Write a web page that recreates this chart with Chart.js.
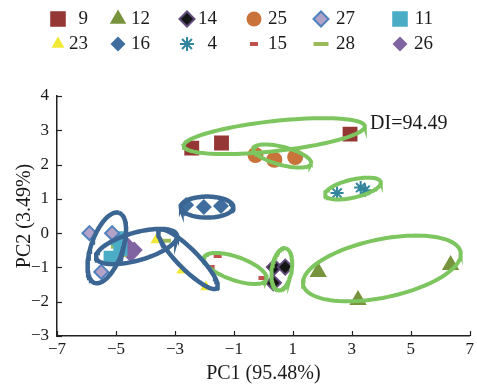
<!DOCTYPE html>
<html>
<head>
<meta charset="utf-8">
<script src="https://cdn.jsdelivr.net/npm/chart.js@4.4.0/dist/chart.umd.min.js"></script>
<style>
  html, body { margin: 0; padding: 0; background: #fff; }
  #wrap { width: 477px; height: 386px; }
</style>
</head>
<body>
<div id="wrap"><canvas id="myChart" width="477" height="386"></canvas></div>
<script>
// groups, in legend order (row by row)
const groupNames = ['9', '12', '14', '25', '27', '11', '23', '16', '4', '15', '28', '26'];

// PC1 / PC2 scores per group
const pc1_9 = [-2.43, -1.42, 2.94];
const pc2_9 = [2.48, 2.63, 2.89];
const pc1_12 = [1.86, 3.21, 6.35];
const pc2_12 = [-1.13, -1.95, -0.93];
const pc1_14 = [0.37, 0.74, 0.34];
const pc2_14 = [-0.99, -0.99, -1.45];
const pc1_25 = [-0.27, 0.37, 1.08];
const pc2_25 = [2.28, 2.14, 2.22];
const pc1_27 = [-5.9, -5.13, -5.5];
const pc2_27 = [0.0, 0.0, -1.13];
const pc1_11 = [-4.95, -5.18, -4.85];
const pc2_11 = [-0.15, -0.72, -0.45];
const pc1_23 = [-3.64, -2.76, -1.95];
const pc2_23 = [-0.2, -1.08, -1.57];
const pc1_16 = [-2.62, -2.02, -1.44];
const pc2_16 = [0.82, 0.76, 0.79];
const pc1_4 = [2.5, 3.3, 3.45];
const pc2_4 = [1.17, 1.33, 1.25];
const pc1_15 = [-1.55, -1.79, -0.03];
const pc2_15 = [-0.67, -0.99, -1.31];
const pc1_28 = [-4.8, -3.3, -5.0];
const pc2_28 = [-0.64, -0.22, -0.4];
const pc1_26 = [-4.62, -4.38, -4.5];
const pc2_26 = [-0.35, -0.49, -0.6];

// confidence ellipses: centre, semi-axis vectors (data units), and which colour set
const ellCx = [0.37, 0.64, 3.04, -1.91, -5.31, -4.30, -2.56, -0.955, 0.625, 4.02];
const ellCy = [2.83, 2.25, 1.30, 0.76, -0.43, -0.39, -0.76, -1.03, -1.05, -1.03];
const ellUx = [3.07, 0.98, 0.945, 0.89, 0.42, 1.37, 0.98, 1.06, 0.118, 2.67];
const ellUy = [0.29, -0.22, 0.19, 0, 1.02, 0.335, -0.845, -0.32, 0.612, 0.48];
const ellVx = [0.055, -0.076, 0.068, 0, 0.5, 0.13, 0.24, -0.13, 0.333, 0.2];
const ellVy = [-0.435, -0.254, -0.256, 0.306, -0.16, -0.39, 0.207, -0.32, -0.047, -0.83];
const ellKind = ['g', 'g', 'g', 'b', 'b', 'b', 'b', 'g', 'g', 'g'];

const xTicksMin = -7, xTicksMax = 7, xStep = 2;
const yTicksMin = -3, yTicksMax = 4, yStep = 1;
const diLabel = 'DI=94.49';
const diPos = [3.62, 3.2];

const serif = "'Liberation Serif', 'Times New Roman', serif";

function zip(xs, ys) {
  return xs.map((x, i) => ({ x: x, y: ys[i] }));
}

// marker look per group
const styles = {
  '9':  { pointStyle: 'rect', radius: 10.5, bg: '#953735', border: '#953735', bw: 0, lr: 11 },
  '12': { pointStyle: 'triangle', radius: 10, bg: '#77933C', border: '#77933C', bw: 0, lr: 9.5 },
  '14': { pointStyle: 'rectRot', radius: 7.5, bg: '#151515', border: '#604A7B', bw: 2, lr: 7.5 },
  '25': { pointStyle: 'circle', radius: 8, bg: '#C9733A', border: '#C9733A', bw: 0, lr: 7.5 },
  '27': { pointStyle: 'rectRot', radius: 7, bg: '#B3A2C7', border: '#4F81BD', bw: 2, lr: 7.5 },
  '11': { pointStyle: 'rect', radius: 10, bg: '#4BACC6', border: '#4BACC6', bw: 0, lr: 11 },
  '23': { pointStyle: 'triangle', radius: 6.5, bg: '#F0E936', border: '#F0E936', bw: 0, lr: 7.5 },
  '16': { pointStyle: 'rectRot', radius: 8, bg: '#3F6E9E', border: '#3F6E9E', bw: 0, lr: 7.5 },
  '4':  { pointStyle: 'star', radius: 6.5, bg: '#31859C', border: '#31859C', bw: 2, lr: 7 },
  '15': { pointStyle: 'line', radius: 4, bg: '#C0504D', border: '#C0504D', bw: 4, lr: 4 },
  '28': { pointStyle: 'line', radius: 5, bg: '#9BBB59', border: '#9BBB59', bw: 4, lr: 7.5 },
  '26': { pointStyle: 'rectRot', radius: 8.5, bg: '#8064A2', border: '#8064A2', bw: 0, lr: 7.5 }
};

const pointData = {
  '9': zip(pc1_9, pc2_9), '12': zip(pc1_12, pc2_12), '14': zip(pc1_14, pc2_14),
  '25': zip(pc1_25, pc2_25), '27': zip(pc1_27, pc2_27), '11': zip(pc1_11, pc2_11),
  '23': zip(pc1_23, pc2_23), '16': zip(pc1_16, pc2_16), '4': zip(pc1_4, pc2_4),
  '15': zip(pc1_15, pc2_15), '28': zip(pc1_28, pc2_28), '26': zip(pc1_26, pc2_26)
};

const datasets = [];

// ellipses first so they sit on top of the markers
for (let i = 0; i < ellCx.length; i++) {
  const pts = [];
  for (let k = 0; k <= 96; k++) {
    const t = (k / 96) * Math.PI * 2;
    pts.push({
      x: ellCx[i] + ellUx[i] * Math.cos(t) + ellVx[i] * Math.sin(t),
      y: ellCy[i] + ellUy[i] * Math.cos(t) + ellVy[i] * Math.sin(t)
    });
  }
  datasets.push({
    label: 'ellipse' + i,
    data: pts,
    showLine: true,
    pointRadius: 0,
    borderColor: ellKind[i] === 'g' ? '#7DC55E' : '#3B6592',
    borderWidth: ellKind[i] === 'g' ? 4 : 4.5,
    tension: 0,
    order: 0
  });
}

groupNames.forEach(name => {
  const s = styles[name];
  datasets.push({
    label: name,
    data: pointData[name],
    pointStyle: s.pointStyle,
    pointRadius: s.radius,
    backgroundColor: s.bg,
    borderColor: s.border,
    borderWidth: s.bw,
    showLine: false,
    order: 1
  });
});

// legend drawn in fixed columns like the original figure
const legendMarkX = [58, 118, 187, 254, 321, 400];
const legendTextR = [88, 150, 217, 287, 355, 433];
const legendRowY = [19, 44];

const decor = {
  id: 'decor',
  afterDraw(chart) {
    const ctx = chart.ctx;
    const xs = chart.scales.x, ys = chart.scales.y;
    const area = chart.chartArea;
    ctx.save();
    // inward tick marks
    ctx.strokeStyle = '#222';
    ctx.lineWidth = 1.2;
    for (let v = xTicksMin; v <= xTicksMax; v += xStep) {
      const px = Math.round(xs.getPixelForValue(v)) + 0.5;
      ctx.beginPath();
      ctx.moveTo(px, area.bottom);
      ctx.lineTo(px, area.bottom - 5);
      ctx.stroke();
    }
    for (let v = yTicksMin; v <= yTicksMax; v += yStep) {
      const py = Math.round(ys.getPixelForValue(v)) + 0.5;
      ctx.beginPath();
      ctx.moveTo(area.left, py);
      ctx.lineTo(area.left + 5, py);
      ctx.stroke();
    }
    // DI label
    ctx.fillStyle = '#1a1a1a';
    ctx.font = '20px ' + serif;
    ctx.textAlign = 'left';
    ctx.textBaseline = 'middle';
    ctx.fillText(diLabel, xs.getPixelForValue(diPos[0]), ys.getPixelForValue(diPos[1]));

    // legend
    groupNames.forEach((name, i) => {
      const s = styles[name];
      const col = i % 6, row = Math.floor(i / 6);
      const mx = legendMarkX[col], my = legendRowY[row];
      ctx.fillStyle = s.bg;
      ctx.strokeStyle = s.border;
      ctx.lineWidth = s.bw;
      Chart.helpers.drawPoint(ctx, { pointStyle: s.pointStyle, radius: s.lr, rotation: 0, borderWidth: s.bw }, mx, my);
      ctx.fillStyle = '#1a1a1a';
      ctx.font = '19px ' + serif;
      ctx.textAlign = 'right';
      ctx.textBaseline = 'middle';
      ctx.fillText(name, legendTextR[col], my);
    });
    ctx.restore();
  }
};

const minusSign = v => String(v).replace('-', '\u2212');

new Chart(document.getElementById('myChart'), {
  type: 'scatter',
  data: { datasets: datasets },
  options: {
    responsive: false,
    animation: false,
    layout: { autoPadding: false, padding: { top: 96, right: 4, left: 0, bottom: 0 } },
    plugins: {
      legend: { display: false },
      tooltip: { enabled: false }
    },
    scales: {
      x: {
        type: 'linear',
        min: xTicksMin,
        max: xTicksMax,
        afterFit: scale => { scale.height = 50; },
        grid: { display: false, drawTicks: false },
        border: { display: true, color: '#222', width: 1.5 },
        ticks: {
          stepSize: xStep,
          padding: 3,
          color: '#1a1a1a',
          font: { family: serif, size: 17 },
          maxRotation: 0,
          callback: minusSign
        },
        title: {
          display: true,
          text: 'PC1 (95.48%)',
          color: '#1a1a1a',
          font: { family: serif, size: 20 },
          padding: { top: 0, bottom: 0 }
        }
      },
      y: {
        type: 'linear',
        min: yTicksMin,
        max: yTicksMax,
        afterFit: scale => { scale.width = 57; },
        grid: { display: false, drawTicks: false },
        border: { display: true, color: '#222', width: 1.5 },
        ticks: {
          stepSize: yStep,
          padding: 8,
          color: '#1a1a1a',
          font: { family: serif, size: 17 },
          callback: minusSign
        },
        title: {
          display: true,
          text: 'PC2 (3.49%)',
          color: '#1a1a1a',
          font: { family: serif, size: 20 },
          padding: { top: 13, bottom: 0 }
        }
      }
    }
  },
  plugins: [decor]
});
</script>
</body>
</html>
